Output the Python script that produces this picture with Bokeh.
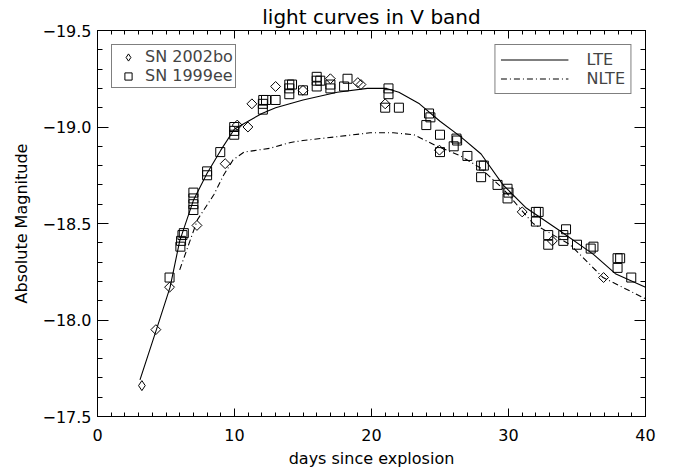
import math
from bokeh.plotting import figure
from bokeh.models import (Range1d, LinearAxis, FixedTicker, Legend, LegendItem,
                          CustomJSTickFormatter, ColumnDataSource, CDSView, IndexFilter)
from bokeh.embed import file_html
from bokeh.resources import INLINE

TITLE = "light curves in V band"
X_LABEL = "days since explosion"
Y_LABEL = "Absolute Magnitude"

x_major = [0, 10, 20, 30, 40]
x_minor = list(range(0, 41))
y_major = [-19.5, -19.0, -18.5, -18.0, -17.5]
y_minor = [round(-19.5 + 0.1 * i, 1) for i in range(21)]

# SN 2002bo (diamonds)
sn2002bo_day = [3.24, 4.26, 5.26, 7.26, 9.32, 10.2, 10.98, 11.27, 13.0, 15.0,
                17.0, 19.0, 19.23, 21.0, 24.96, 31.0, 33.2, 36.94]
sn2002bo_mag = [-17.66, -17.95, -18.17, -18.49, -18.81, -19.01, -19.00, -19.12, -19.21, -19.19,
                -19.25, -19.23, -19.22, -19.12, -18.88, -18.56, -18.41, -18.22]

# SN 1999ee (squares)
sn1999ee_day = [5.26, 6.05, 6.1, 6.2, 6.3, 7.0, 7.0, 7.0, 7.0, 8.0,
                8.0, 8.96, 9.98, 9.98, 9.98, 12.07, 12.07, 12.1, 12.3, 13.0,
                14.0, 14.0, 14.0, 14.2, 15.0, 16.0, 16.0, 16.0, 16.26, 17.0,
                17.0, 18.0, 18.25, 21.24, 21.24, 21.0, 22.0, 24.2, 24.3, 24.0,
                25.0, 26.2, 26.25, 26.0, 25.0, 27.0, 28.0, 28.2, 28.0, 29.2,
                29.93, 30.0, 29.93, 32.0, 32.2, 32.0, 32.9, 32.9, 34.0, 34.0,
                34.2, 35.0, 36.0, 36.2, 37.96, 38.15, 37.96, 38.96]
sn1999ee_mag = [-18.22, -18.38, -18.41, -18.44, -18.45, -18.57, -18.60, -18.63, -18.66, -18.75,
                -18.77, -18.87, -18.96, -18.98, -19.00, -19.09, -19.12, -19.14, -19.14, -19.14,
                -19.17, -19.20, -19.22, -19.22, -19.19, -19.21, -19.24, -19.26, -19.24, -19.20,
                -19.22, -19.21, -19.25, -19.17, -19.20, -19.10, -19.10, -19.07, -19.05, -19.01,
                -18.96, -18.94, -18.93, -18.90, -18.87, -18.85, -18.80, -18.80, -18.74, -18.70,
                -18.68, -18.66, -18.63, -18.56, -18.56, -18.51, -18.44, -18.39, -18.41, -18.44,
                -18.47, -18.39, -18.37, -18.38, -18.32, -18.32, -18.27, -18.22]

# model curves
lte_day = [3.1, 4.3, 5.3, 6.0, 7.0, 8.0, 9.0, 10.0, 11.0, 12.0, 13.0, 15.0, 17.5,
           19.7, 21.1, 22.0, 23.5, 25.0, 26.5, 28.0, 29.6, 31.3, 33.8, 36.2, 37.8, 40.0]
lte_mag = [-17.69, -17.95, -18.17, -18.41, -18.62, -18.76, -18.88, -18.99, -19.03, -19.07,
           -19.10, -19.14, -19.18, -19.20, -19.20, -19.18, -19.12, -19.03, -18.95, -18.86,
           -18.70, -18.58, -18.46, -18.34, -18.24, -18.17]
nlte_day = [6.0, 7.3, 8.5, 9.2, 9.9, 10.7, 12.6, 14.1, 15.0, 17.5, 19.9, 21.6, 23.1,
            24.8, 26.5, 27.9, 29.6, 31.8, 34.5, 36.9, 40.0]
nlte_mag = [-18.26, -18.52, -18.65, -18.75, -18.83, -18.87, -18.89, -18.92, -18.93, -18.95,
            -18.97, -18.97, -18.96, -18.90, -18.85, -18.79, -18.68, -18.50, -18.39, -18.22, -18.11]

FONT = "DejaVu Sans"

p = figure(width=678, height=472, output_backend="svg", toolbar_location=None,
           x_range=Range1d(0, 40), y_range=Range1d(-17.5, -19.5),
           min_border_left=97, min_border_right=33, min_border_top=30, min_border_bottom=56,
           x_axis_label=X_LABEL, y_axis_label=Y_LABEL, title=TITLE)
p.grid.visible = False
p.outline_line_color = "black"
p.outline_line_width = 1
p.background_fill_color = "white"
p.border_fill_color = "white"

p.title.align = "center"
p.title.text_font = FONT
p.title.text_font_size = "20px"
p.title.text_font_style = "normal"
p.title.text_color = "black"
p.title.text_line_height = 0.9
p.title.standoff = 3


def style_axis(ax, horizontal, show_labels):
    if horizontal:
        ax.ticker = FixedTicker(ticks=x_major, minor_ticks=x_minor)
        ax.major_tick_in = 8
        ax.minor_tick_in = 4
    else:
        ax.ticker = FixedTicker(ticks=y_major, minor_ticks=y_minor)
        ax.major_tick_in = 11
        ax.minor_tick_in = 5
    ax.major_tick_out = 0
    ax.minor_tick_out = 0
    ax.axis_line_color = "black"
    ax.major_tick_line_color = "black"
    ax.minor_tick_line_color = "black"
    ax.major_label_text_font = FONT
    ax.major_label_text_color = "black"
    ax.axis_label_text_font = FONT
    ax.axis_label_text_font_style = "normal"
    ax.axis_label_text_color = "black"
    if not show_labels:
        ax.major_label_text_font_size = "0px"
        ax.major_label_standoff = 0
        ax.formatter = CustomJSTickFormatter(code="return '';")


xa = p.xaxis[0]
ya = p.yaxis[0]
style_axis(xa, True, True)
style_axis(ya, False, True)
xa.major_label_text_font_size = "16px"
xa.axis_label_text_font_size = "16px"
xa.major_label_standoff = 12
xa.axis_label_standoff = 5
ya.major_label_text_font_size = "16px"
ya.axis_label_text_font_size = "16px"
ya.major_label_standoff = 6
ya.axis_label_standoff = 8
ya.formatter = CustomJSTickFormatter(
    code="return (tick < 0 ? '\\u2212' : '') + Math.abs(tick).toFixed(1);")

top = LinearAxis()
style_axis(top, True, False)
p.add_layout(top, "above")
right = LinearAxis()
style_axis(right, False, False)
p.add_layout(right, "right")

src_bo = ColumnDataSource(dict(x=sn2002bo_day, y=sn2002bo_mag))
src_ee = ColumnDataSource(dict(x=sn1999ee_day, y=sn1999ee_mag))

r_lte = p.line(lte_day, lte_mag, line_color="black", line_width=1.1)
r_nlte = p.line(nlte_day, nlte_mag, line_color="black", line_width=1.1,
                line_dash="6 3 1 3")
n_bo = len(sn2002bo_day)
# diamonds drawn as squares turned by 45 degrees (the legend cannot turn a marker,
# so the first point is drawn with the "diamond" marker and stands for the legend)
r_bo = p.scatter("x", "y", source=src_bo, view=CDSView(filter=IndexFilter(list(range(1, n_bo)))),
                 marker="square", angle=math.pi / 4,
                 size=7, fill_color=None, line_color="black", line_width=1)
r_bo_leg = p.scatter("x", "y", source=src_bo, view=CDSView(filter=IndexFilter([0])),
                     marker="diamond", size=10,
                     fill_color=None, line_color="black", line_width=1)
r_ee = p.scatter("x", "y", source=src_ee, marker="square",
                 size=9, fill_color=None, line_color="black", line_width=1)

leg1 = Legend(items=[LegendItem(label="SN 2002bo", renderers=[r_bo_leg]),
                     LegendItem(label="SN 1999ee", renderers=[r_ee])],
              location="top_left", margin=14, padding=2, spacing=0,
              glyph_width=28, glyph_height=18, label_height=16, label_standoff=3,
              label_text_font=FONT, label_text_font_size="16px",
              label_text_line_height=0.8,
              border_line_color="black", border_line_width=1,
              background_fill_alpha=1.0)
leg2 = Legend(items=[LegendItem(label="LTE", renderers=[r_lte]),
                     LegendItem(label="NLTE", renderers=[r_nlte])],
              location="top_right", margin=14, padding=5, spacing=0,
              glyph_width=68, glyph_height=17, label_height=16, label_standoff=18,
              label_text_font=FONT, label_text_font_size="16px",
              label_text_line_height=0.8,
              border_line_color="black", border_line_width=1,
              background_fill_alpha=1.0)
p.add_layout(leg1)
p.add_layout(leg2)

with open("out.html", "w", encoding="utf-8") as f:
    f.write(file_html(p, INLINE))
